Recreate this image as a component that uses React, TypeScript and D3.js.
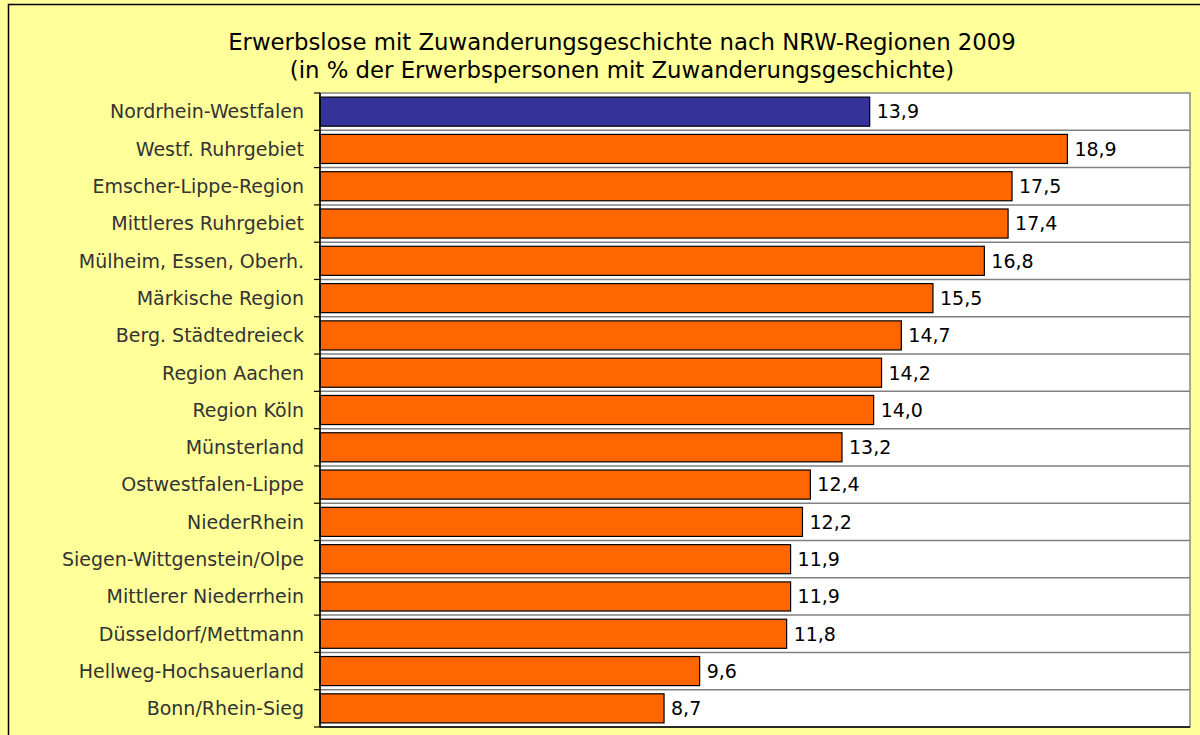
import React, { useEffect, useRef } from "react";
import * as d3 from "d3";

const regions = [
  "Nordrhein-Westfalen",
  "Westf. Ruhrgebiet",
  "Emscher-Lippe-Region",
  "Mittleres Ruhrgebiet",
  "Mülheim, Essen, Oberh.",
  "Märkische Region",
  "Berg. Städtedreieck",
  "Region Aachen",
  "Region Köln",
  "Münsterland",
  "Ostwestfalen-Lippe",
  "NiederRhein",
  "Siegen-Wittgenstein/Olpe",
  "Mittlerer Niederrhein",
  "Düsseldorf/Mettmann",
  "Hellweg-Hochsauerland",
  "Bonn/Rhein-Sieg",
];

const values = [
  13.9, 18.9, 17.5, 17.4, 16.8, 15.5, 14.7, 14.2, 14.0, 13.2, 12.4, 12.2, 11.9,
  11.9, 11.8, 9.6, 8.7,
];

const titleLines = [
  "Erwerbslose mit Zuwanderungsgeschichte nach NRW-Regionen 2009",
  "(in % der Erwerbspersonen mit Zuwanderungsgeschichte)",
];

const App: React.FC = () => {
  const ref = useRef<HTMLDivElement | null>(null);

  useEffect(() => {
    const container = ref.current;
    if (!container) return;
    container.innerHTML = "";

    const width = 1200;
    const height = 735;
    const plot = { left: 320, right: 1190, top: 93, bottom: 727 };
    const font = "'DejaVu Sans', Verdana, sans-serif";

    const x = d3.scaleLinear().domain([0, 22]).range([plot.left, plot.right]);
    const y = d3
      .scaleBand()
      .domain(regions)
      .range([plot.top, plot.bottom])
      .paddingInner(0.22)
      .paddingOuter(0.11);
    const step = y.step();
    const y0 = y.range()[0];

    const svg = d3
      .select(container)
      .append("svg")
      .attr("width", width)
      .attr("height", height)
      .style("display", "block");

    svg
      .append("rect")
      .attr("width", width)
      .attr("height", height)
      .attr("fill", "#FFFF99");
    svg
      .append("rect")
      .attr("x", 8.5)
      .attr("y", 4.5)
      .attr("width", width)
      .attr("height", height)
      .attr("fill", "none")
      .attr("stroke", "#000")
      .attr("stroke-width", 1.5);

    // title
    svg
      .append("g")
      .selectAll("text")
      .data(titleLines)
      .enter()
      .append("text")
      .attr("x", 622)
      .attr("y", (_, i) => 50 + i * 28)
      .attr("text-anchor", "middle")
      .style("font", `22.8px ${font}`)
      .attr("fill", "#000")
      .text((d) => d);

    // plot area
    svg
      .append("rect")
      .attr("x", plot.left)
      .attr("y", plot.top)
      .attr("width", plot.right - plot.left)
      .attr("height", plot.bottom - plot.top)
      .attr("fill", "#fff")
      .attr("stroke", "#888")
      .attr("stroke-width", 1.5);

    // gridlines at category boundaries
    const bounds = d3.range(1, regions.length).map((i) => y0 + i * step);
    svg
      .append("g")
      .selectAll("line")
      .data(bounds)
      .enter()
      .append("line")
      .attr("x1", plot.left)
      .attr("x2", plot.right)
      .attr("y1", (d) => d)
      .attr("y2", (d) => d)
      .attr("stroke", "#808080")
      .attr("stroke-width", 1.5);

    // bars
    svg
      .append("g")
      .selectAll("rect")
      .data(values)
      .enter()
      .append("rect")
      .attr("x", x(0))
      .attr("y", (_, i) => y(regions[i])!)
      .attr("width", (d) => x(d) - x(0))
      .attr("height", y.bandwidth())
      .attr("fill", (_, i) => (i === 0 ? "#333399" : "#FF6600"))
      .attr("stroke", "#000")
      .attr("stroke-width", 1.2);

    // value labels
    svg
      .append("g")
      .selectAll("text")
      .data(values)
      .enter()
      .append("text")
      .attr("x", (d) => x(d) + 7)
      .attr("y", (_, i) => y(regions[i])! + y.bandwidth() / 2)
      .attr("dy", "0.36em")
      .style("font", `19px ${font}`)
      .attr("fill", "#000")
      .text((d) => d.toFixed(1).replace(".", ","));

    // category axis
    const axis = svg.append("g");
    axis
      .append("line")
      .attr("x1", plot.left)
      .attr("x2", plot.left)
      .attr("y1", plot.top)
      .attr("y2", plot.bottom)
      .attr("stroke", "#000")
      .attr("stroke-width", 1.5);
    axis
      .append("line")
      .attr("x1", plot.left)
      .attr("x2", plot.right)
      .attr("y1", plot.bottom)
      .attr("y2", plot.bottom)
      .attr("stroke", "#000")
      .attr("stroke-width", 1.5);
    axis
      .selectAll("line.tick")
      .data([plot.top, ...bounds, plot.bottom])
      .enter()
      .append("line")
      .attr("class", "tick")
      .attr("x1", plot.left - 6)
      .attr("x2", plot.left)
      .attr("y1", (d) => d)
      .attr("y2", (d) => d)
      .attr("stroke", "#000")
      .attr("stroke-width", 1.2);
    axis
      .selectAll("text")
      .data(regions)
      .enter()
      .append("text")
      .attr("x", 304)
      .attr("y", (d) => y(d)! + y.bandwidth() / 2)
      .attr("dy", "0.36em")
      .attr("text-anchor", "end")
      .style("font", `19px ${font}`)
      .attr("fill", "#333")
      .text((d) => d);

    return () => {
      d3.select(container).selectAll("*").remove();
    };
  }, []);

  return (
    <div style={{ position: "fixed", left: 0, top: 0 }}>
      <div ref={ref} />
    </div>
  );
};

export default App;
